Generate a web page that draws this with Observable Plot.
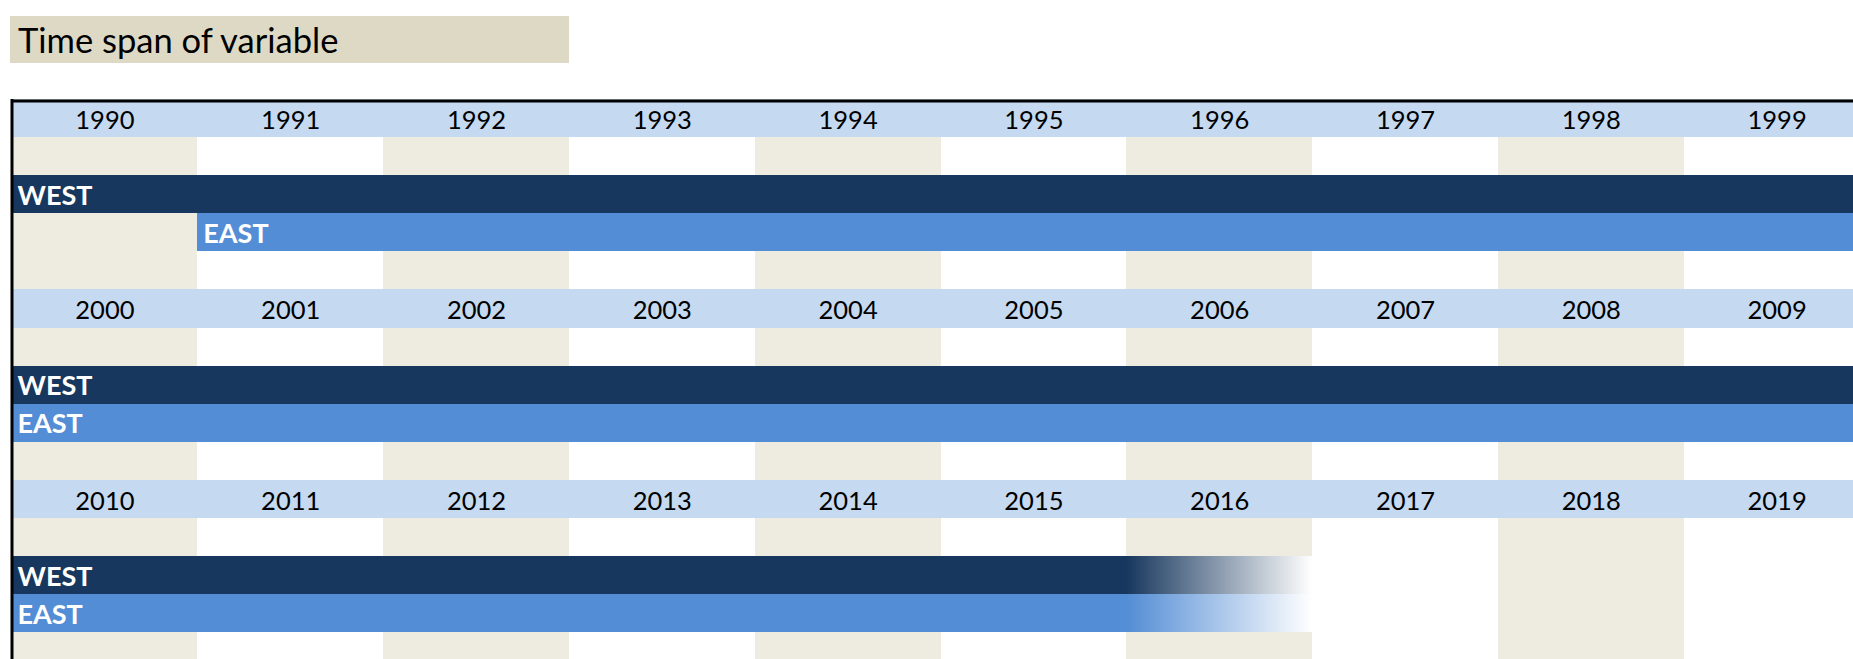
<!DOCTYPE html>
<html>
<head>
<meta charset="utf-8">
<script src="https://cdn.jsdelivr.net/npm/d3@7"></script>
<script src="https://cdn.jsdelivr.net/npm/@observablehq/plot@0.6"></script>
<style>
  html, body { margin: 0; padding: 0; background: #fff; overflow: hidden; }
  #header { position: relative; height: 99px; }
  #title {
    position: absolute; left: 10px; top: 16px; width: 559px; height: 47px;
    background: #ddd9c4; font-family: Lato, "Noto Sans", sans-serif; font-size: 34.5px;
    line-height: 47px; padding-left: 8px; box-sizing: border-box; color: #000;
  }
  #chart svg { display: block; }
</style>
</head>
<body>
<div id="header"><div id="title">Time span of variable</div></div>
<div id="chart"></div>
<script>
// ---- data ----
const decades = [1990, 2000, 2010];
const yearLabels = [
  "1990","1991","1992","1993","1994","1995","1996","1997","1998","1999",
  "2000","2001","2002","2003","2004","2005","2006","2007","2008","2009",
  "2010","2011","2012","2013","2014","2015","2016","2017","2018","2019"
];
const seriesNames = ["WEST", "EAST"];
const seriesFirstYear = [1990, 1991];
const seriesFadeYear = [2016, 2016];   // year in which coverage fades out
const seriesColors = ["#17375e", "#538dd5"];

// ---- derived tables ----
const ROWS_PER_BLOCK = 5;
const years = yearLabels.map((label, i) => {
  const year = +label;
  const block = decades.findIndex(d => year >= d && year < d + 10);
  return {label, year, block, col: year - decades[block]};
});
const stripes = years.filter(d => d.col % 2 === 0).map(d => ({
  x1: d.col, x2: d.col + 1,
  y1: d.block * ROWS_PER_BLOCK + 1, y2: d.block * ROWS_PER_BLOCK + ROWS_PER_BLOCK
}));
const bands = decades.map((d, b) => ({x1: 0, x2: 10, y1: b * ROWS_PER_BLOCK, y2: b * ROWS_PER_BLOCK + 1}));

const solid = [], fades = [];
seriesNames.forEach((name, s) => {
  decades.forEach((D, b) => {
    const row = b * ROWS_PER_BLOCK + 2 + s;
    const start = Math.max(seriesFirstYear[s], D);
    const end = Math.min(seriesFadeYear[s], D + 10);
    if (end > start) solid.push({name, s, x1: start - D, x2: end - D, y1: row, y2: row + 1, color: seriesColors[s]});
    if (seriesFadeYear[s] >= D && seriesFadeYear[s] < D + 10)
      fades.push({name, s, x1: seriesFadeYear[s] - D, x2: seriesFadeYear[s] - D + 1, y1: row, y2: row + 1});
  });
});

const defs = () => {
  const g = d3.create("svg:defs");
  seriesNames.forEach((name, s) => {
    const lg = g.append("linearGradient").attr("id", "fade-" + name)
      .attr("x1", 0).attr("x2", 1).attr("y1", 0).attr("y2", 0);
    lg.append("stop").attr("offset", 0).attr("stop-color", seriesColors[s]);
    lg.append("stop").attr("offset", 1).attr("stop-color", "#ffffff");
  });
  return g.node();
};

const COLW = 185.8, ROWH = 38.1, X0 = 11.5, Y0 = -0.1;
const plot = Plot.plot({
  width: 1853,
  height: 560,
  margin: 0,
  style: {background: "transparent", overflow: "hidden"},
  x: {type: "linear", domain: [0, 10], range: [X0, X0 + 10 * COLW], axis: null},
  y: {type: "linear", domain: [0, 15], range: [Y0, Y0 + 15 * ROWH], axis: null},
  marks: [
    defs,
    Plot.rect(stripes, {x1: "x1", x2: "x2", y1: "y1", y2: "y2", fill: "#eeece1", shapeRendering: "crispEdges"}),
    Plot.rect(bands, {x1: "x1", x2: "x2", y1: "y1", y2: "y2", fill: "#c5d9f1", shapeRendering: "crispEdges"}),
    Plot.text(years, {
      x: d => d.col + 0.5, y: d => d.block * ROWS_PER_BLOCK + 0.5, text: "label", dy: 2,
      fontFamily: "Lato, 'Noto Sans', sans-serif", fontSize: 25.5, fill: "#000"
    }),
    Plot.rect(solid, {x1: "x1", x2: "x2", y1: "y1", y2: "y2", fill: "color", shapeRendering: "crispEdges"}),
    ...fades.map(f => Plot.rect([f], {x1: "x1", x2: "x2", y1: "y1", y2: "y2", fill: "url(#fade-" + f.name + ")", shapeRendering: "crispEdges"})),
    Plot.text(solid, {
      x: "x1", y: d => d.y1 + 0.5, text: "name", textAnchor: "start", dx: 5.5, dy: 1.5,
      fontFamily: "Lato, 'Noto Sans', sans-serif", fontWeight: "bold", fontSize: 27, fill: "#fff"
    }),
    Plot.ruleX([0], {stroke: "#000", strokeWidth: 3}),
    Plot.ruleY([0], {x1: 0, x2: 10, dy: 1.6, stroke: "#000", strokeWidth: 3})
  ]
});
document.getElementById("chart").appendChild(plot);
</script>
</body>
</html>
